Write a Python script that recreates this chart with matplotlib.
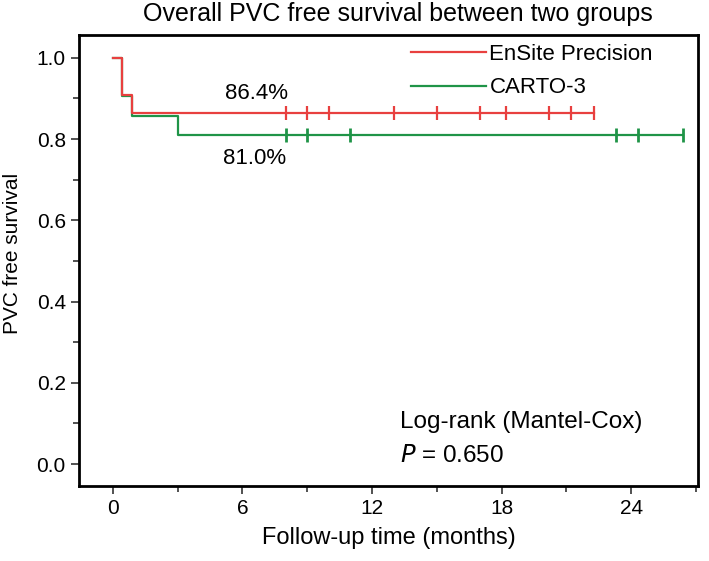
import numpy as np
import matplotlib
matplotlib.use('Agg')
import matplotlib.pyplot as plt
from matplotlib.ticker import MultipleLocator

plt.rcParams['font.family'] = ['Liberation Sans', 'DejaVu Sans']

# Kaplan-Meier steps (months, survival)
ensite_t = [0, 0.4, 0.9, 22.3]
ensite_s = [1.0, 0.909, 0.864, 0.864]
carto_t = [0, 0.4, 0.9, 3.0, 26.4]
carto_s = [1.0, 0.905, 0.857, 0.810, 0.810]

# censored observations
ensite_cens = [8, 9, 10, 13, 15, 17, 18.2, 20.2, 21.2, 22.3]
carto_cens = [8, 9, 11, 23.3, 24.3, 26.4]

red = '#e8403f'
green = '#1f9447'

def surv_at(t, times, surv):
    idx = np.searchsorted(times, t, side='right') - 1
    return np.array(surv)[idx]

fig = plt.figure(figsize=(7.09, 5.61), dpi=100)
ax = fig.add_axes([79/709, 1 - 486/561, 619/709, 451/561])

ax.step(carto_t, carto_s, where='post', color=green, lw=1.6, label='CARTO-3', zorder=2)
ax.step(ensite_t, ensite_s, where='post', color=red, lw=1.6, label='EnSite Precision', zorder=3)
ax.plot(carto_cens, surv_at(carto_cens, carto_t, carto_s), ls='none', marker='|',
        ms=10, mew=2, color=green, zorder=2)
ax.plot(ensite_cens, surv_at(ensite_cens, ensite_t, ensite_s), ls='none', marker='|',
        ms=10, mew=1.6, color=red, zorder=3)

ax.text(6.65, 0.912, '86.4%', fontsize=16, ha='center', va='center')
ax.text(6.57, 0.752, '81.0%', fontsize=16, ha='center', va='center')
ax.text(13.3, 0.103, 'Log-rank (Mantel-Cox)', fontsize=17.5, ha='left', va='center')
ax.text(13.3, 0.02, '$P$ = 0.650', fontsize=17.5, ha='left', va='center')

h, l = ax.get_legend_handles_labels()
fig.legend(h[::-1], l[::-1], loc='upper left', bbox_to_anchor=(411/709, 1 - 44/561),
           frameon=False, fontsize=16, handlelength=3.38, handletextpad=0.15,
           labelspacing=0.56, borderpad=0, borderaxespad=0)

ax.set_xlim(-1.57, 27.1)
ax.set_ylim(-0.054, 1.056)
ax.xaxis.set_major_locator(MultipleLocator(6))
ax.xaxis.set_minor_locator(MultipleLocator(3))
ax.yaxis.set_major_locator(MultipleLocator(0.2))
ax.yaxis.set_minor_locator(MultipleLocator(0.1))
ax.yaxis.set_major_formatter(plt.FuncFormatter(lambda v, p: f'{v:.1f}'))
ax.tick_params(which='both', direction='out', width=1.2, labelsize=15, color='#333333')
ax.tick_params(which='major', length=6)
ax.tick_params(which='minor', length=4)
for sp in ax.spines.values():
    sp.set_linewidth(2)

ax.set_xlabel('Follow-up time (months)', fontsize=17)
ax.xaxis.set_label_coords(0.5, -0.091)
ax.set_ylabel('PVC free survival', fontsize=15)
ax.yaxis.set_label_coords(-0.092, 0.5155)
fig.text(398/709, 1 - 14/561, 'Overall PVC free survival between two groups',
         fontsize=18, ha='center', va='center')

fig.savefig('out.png', dpi=100)
